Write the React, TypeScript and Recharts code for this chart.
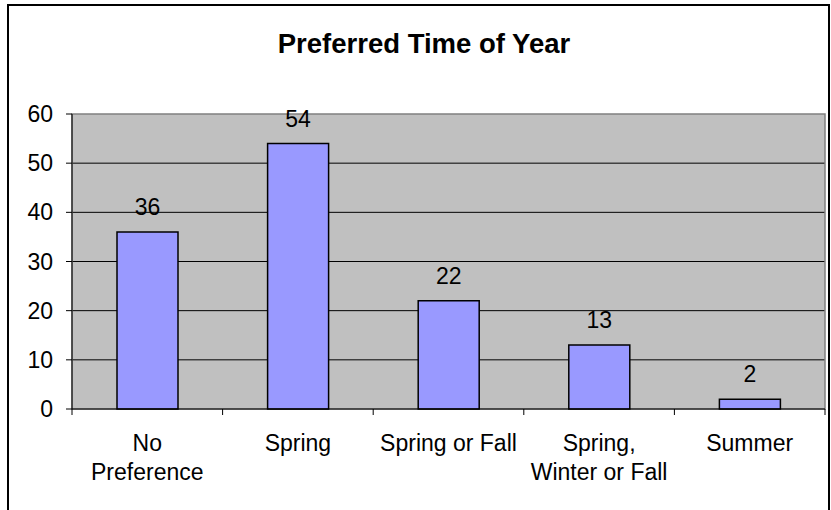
import React from "react";
import {
  BarChart,
  Bar,
  XAxis,
  YAxis,
  CartesianGrid,
  ReferenceArea,
  LabelList,
} from "recharts";

// categories use "\n" where the original label wraps
const categories = [
  "No\nPreference",
  "Spring",
  "Spring or Fall",
  "Spring,\nWinter or Fall",
  "Summer",
];
const counts = [36, 54, 22, 13, 2];
const yTicks = [0, 10, 20, 30, 40, 50, 60];
const gridValues = [10, 20, 30, 40, 50];

const data = categories.map((name, i) => ({ name, count: counts[i] }));

const FONT = '"Liberation Sans", Arial, sans-serif';

const CategoryTick = (props: any) => {
  const { x, y, payload, index } = props;
  const half = payload && payload.offset ? payload.offset : 75.3;
  const lines = String(payload.value).split("\n");
  const isLast = index === categories.length - 1;
  return (
    <g>
      <line x1={x - half} x2={x - half} y1={y} y2={y + 6} stroke="#000" />
      {isLast && (
        <line x1={x + half} x2={x + half} y1={y} y2={y + 6} stroke="#000" />
      )}
      <text
        x={x}
        y={y + 42}
        textAnchor="middle"
        fontSize={23}
        fontFamily={FONT}
        fill="#000"
      >
        {lines.map((l, i) => (
          <tspan key={i} x={x} dy={i === 0 ? 0 : 29}>
            {l}
          </tspan>
        ))}
      </text>
    </g>
  );
};

const App: React.FC = () => {
  return (
    <div
      style={{
        position: "absolute",
        left: 7,
        top: 4,
        width: 819,
        height: 504,
        border: "2px solid #000",
        borderBottom: "none",
        background: "#fff",
      }}
    >
      <svg
        width={819}
        height={80}
        style={{ position: "absolute", left: 0, top: 0 }}
      >
        <text
          x={415}
          y={47}
          textAnchor="middle"
          fontSize={27.5}
          fontWeight="bold"
          fontFamily={FONT}
          fill="#000"
        >
          Preferred Time of Year
        </text>
      </svg>
      <BarChart
        width={819}
        height={500}
        data={data}
        margin={{ top: 108, right: 3, left: 0, bottom: 37 }}
        barSize={61}
      >
        <CartesianGrid
          vertical={false}
          horizontalValues={gridValues}
          stroke="#000"
          fill="#C0C0C0"
          fillOpacity={1}
        />
        <ReferenceArea
          y1={0}
          y2={60}
          fill="none"
          stroke="#808080"
          strokeWidth={1.5}
        />
        <XAxis
          dataKey="name"
          height={60}
          interval={0}
          axisLine={{ stroke: "#000" }}
          tickLine={false}
          tickSize={0}
          tickMargin={0}
          tick={<CategoryTick />}
        />
        <YAxis
          width={63}
          domain={[0, 60]}
          ticks={yTicks}
          interval={0}
          tickSize={6}
          tickMargin={13}
          axisLine={{ stroke: "#000" }}
          tickLine={{ stroke: "#000" }}
          tick={{ fontSize: 23, fill: "#000", fontFamily: FONT }}
        />
        <Bar
          dataKey="count"
          fill="#9999FF"
          stroke="#000"
          strokeWidth={1.5}
          isAnimationActive={false}
        >
          <LabelList
            dataKey="count"
            position="top"
            offset={17}
            fill="#000"
            fontSize={23}
            fontFamily={FONT}
          />
        </Bar>
      </BarChart>
    </div>
  );
};

export default App;
